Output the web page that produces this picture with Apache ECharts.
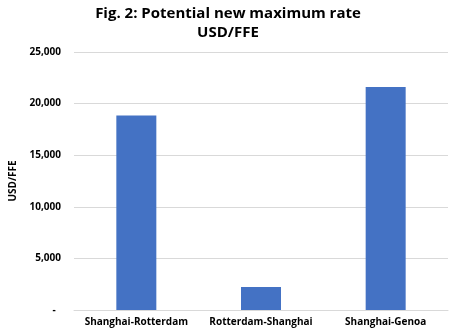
<!DOCTYPE html>
<html><head><meta charset="utf-8">
<script src="https://cdn.jsdelivr.net/npm/echarts@6/dist/echarts.min.js"></script>
<style>html,body{margin:0;padding:0;background:#fff}#c{width:450px;height:331px}</style>
</head><body><div id="c"></div>
<script>
const categories = ["Shanghai-Rotterdam", "Rotterdam-Shanghai", "Shanghai-Genoa"];
const values = [18850, 2230, 21600];
const titleText = "Fig. 2: Potential new maximum rate\nUSD/FFE";
const yAxisName = "USD/FFE";

const chart = echarts.init(document.getElementById('c'));
const font = "'Open Sans', 'Noto Sans', sans-serif";
chart.setOption({
  animation: false,
  title: {
    text: titleText,
    left: 223, top: -1, textAlign: 'center',
    textStyle: { fontFamily: font, fontWeight: 'bold', fontSize: 15, color: '#000', lineHeight: 19 }
  },
  grid: { left: 67, right: 2, top: 52, bottom: 21, containLabel: false },
  xAxis: {
    type: 'category', data: categories,
    axisLine: { lineStyle: { color: '#d9d9d9' } },
    axisTick: { show: false },
    axisLabel: { fontFamily: font, fontWeight: 'bold', fontSize: 10, color: '#000', margin: 7, interval: 0 }
  },
  yAxis: {
    type: 'value', min: 0, max: 25000, interval: 5000,
    name: yAxisName, nameLocation: 'middle', nameGap: 56, nameRotate: 90,
    nameTextStyle: { fontFamily: font, fontWeight: 'bold', fontSize: 10, color: '#000' },
    axisLine: { show: false }, axisTick: { show: false },
    splitLine: { lineStyle: { color: '#d9d9d9' } },
    axisLabel: {
      fontFamily: font, fontWeight: 'bold', fontSize: 10, color: '#000', margin: 13,
      formatter: v => v === 0 ? '-  ' : v.toLocaleString('en-US')
    }
  },
  series: [{
    type: 'bar', data: values, barWidth: 40,
    itemStyle: { color: '#4472C4' }
  }]
});
</script></body></html>
